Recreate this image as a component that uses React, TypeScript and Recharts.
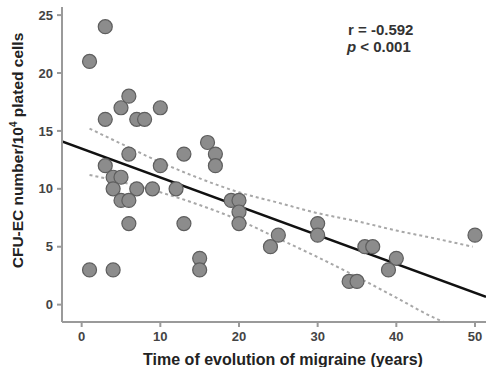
import React from 'react';
import { ComposedChart, Scatter, Line, XAxis, YAxis, Label } from 'recharts';

const evolutionYears = [1, 3, 3, 5, 6, 7, 8, 10, 3, 6, 13, 10, 4, 5, 4, 7, 9, 12, 5, 6, 6, 13, 1, 4, 15, 15, 16, 17, 17, 19, 20, 20, 20, 25, 24, 30, 30, 36, 37, 40, 39, 34, 35, 50];
const cfuCounts = [21, 24, 16, 17, 18, 16, 16, 17, 12, 13, 13, 12, 11, 11, 10, 10, 10, 10, 9, 9, 7, 7, 3, 3, 4, 3, 14, 13, 12, 9, 9, 8, 7, 6, 5, 7, 6, 5, 5, 4, 3, 2, 2, 6];

// Regression line endpoints
const fitX = [-2.5, 51.4];
const fitY = [14.09, 0.67];

// Confidence band
const upperX = [1, 5, 10, 15, 20, 25, 30, 35, 40, 45, 49.7];
const upperY = [15.2, 13.9, 12.3, 10.9, 9.7, 8.8, 7.9, 7.2, 6.4, 5.7, 5.0];
const lowerX = [1, 5, 10, 15, 20, 25, 30, 35, 40, 45, 46];
const lowerY = [11.2, 10.6, 9.7, 8.6, 7.3, 5.7, 4.1, 2.4, 0.6, -1.2, -1.5];

const xTicks = [0, 10, 20, 30, 40, 50];
const yTicks = [0, 5, 10, 15, 20, 25];

const xTitle = 'Time of evolution of migraine (years)';
const rText = 'r = -0.592';
const pText = '< 0.001';

const points = evolutionYears.map((x, i) => ({ x, y: cfuCounts[i] }));
const fitData = fitX.map((x, i) => ({ x, y: fitY[i] }));
const upperData = upperX.map((x, i) => ({ x, y: upperY[i] }));
const lowerData = lowerX.map((x, i) => ({ x, y: lowerY[i] }));

const FONT = '"Liberation Sans", Arial, sans-serif';

const Dot = (props: any) => (
  <circle cx={props.cx} cy={props.cy} r={7} fill="#8c8c8c" stroke="#5e5e5e" strokeWidth={1.2} />
);

const XTitle = (props: any) => {
  const vb = props.viewBox;
  return (
    <text x={vb.x + vb.width / 2 + 9} y={vb.y + vb.height - 2} textAnchor="middle"
      fontFamily={FONT} fontSize={16} fontWeight="bold" fill="#222">
      {xTitle}
    </text>
  );
};

const YTitle = (props: any) => {
  const vb = props.viewBox;
  const cx = 23;
  const cy = vb.y + vb.height / 2 - 14;
  return (
    <text x={cx} y={cy} textAnchor="middle" transform={`rotate(-90 ${cx} ${cy})`}
      fontFamily={FONT} fontSize={15.5} fontWeight="bold" fill="#222">
      <tspan>CFU-EC number/10</tspan>
      <tspan dy={-6} fontSize={10}>4</tspan>
      <tspan dy={6}> plated cells</tspan>
    </text>
  );
};

export default function App() {
  return (
    <div style={{ position: 'absolute', left: 0, top: 0, background: '#fff' }}>
      <ComposedChart width={486} height={367} margin={{ top: 7, right: 0, bottom: 0, left: 0 }}>
        <XAxis type="number" dataKey="x" domain={[-2.5, 51.4]} ticks={xTicks} allowDataOverflow
          height={45} stroke="#9a9a9a" strokeWidth={2} tickSize={5} tickMargin={5}
          tick={{ fill: '#444', fontSize: 13, fontWeight: 'bold', fontFamily: FONT }}>
          <Label content={XTitle} />
        </XAxis>
        <YAxis type="number" dataKey="y" domain={[-1.5, 25.7]} ticks={yTicks} allowDataOverflow
          width={62} stroke="#9a9a9a" strokeWidth={2} tickSize={5} tickMargin={4}
          tick={{ fill: '#444', fontSize: 13, fontWeight: 'bold', fontFamily: FONT }}>
          <Label content={YTitle} />
        </YAxis>
        <Scatter data={points} dataKey="y" shape={Dot} isAnimationActive={false} />
        <Line data={upperData} dataKey="y" type="monotone" stroke="#a8a8a8" strokeWidth={2}
          strokeDasharray="3 3" dot={false} activeDot={false} isAnimationActive={false} />
        <Line data={lowerData} dataKey="y" type="monotone" stroke="#a8a8a8" strokeWidth={2}
          strokeDasharray="3 3" dot={false} activeDot={false} isAnimationActive={false} />
        <Line data={fitData} dataKey="y" type="linear" stroke="#111" strokeWidth={2.5}
          dot={false} activeDot={false} isAnimationActive={false} />
        <text x={348} y={35} fontFamily={FONT} fontSize={15} fontWeight="bold" fill="#333">{rText}</text>
        <text x={347} y={52} fontFamily={FONT} fontSize={15} fontWeight="bold" fill="#333">
          <tspan fontStyle="italic">p</tspan> {pText}
        </text>
      </ComposedChart>
    </div>
  );
}
